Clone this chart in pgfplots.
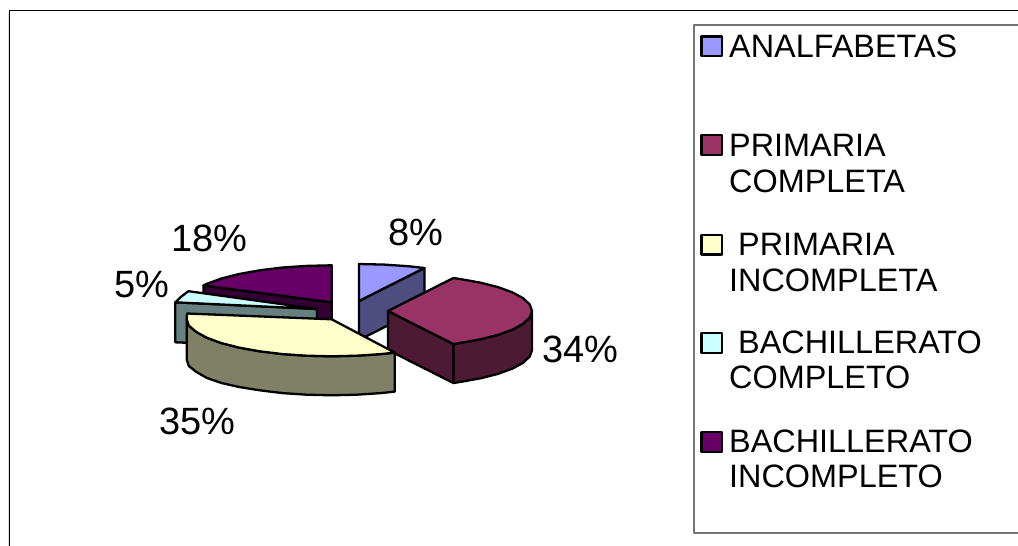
\documentclass[border=0pt]{standalone}
\usepackage{fontspec}
\setmainfont{Liberation Sans}
\usepackage{pgfplots}
\pgfplotsset{compat=1.18}
\definecolor{topA}{HTML}{9999FF}
\definecolor{topB}{HTML}{993366}
\definecolor{topC}{HTML}{FFFFCC}
\definecolor{topD}{HTML}{CCFFFF}
\definecolor{topE}{HTML}{660066}
\definecolor{sideA}{HTML}{4D4D80}
\definecolor{sideB}{HTML}{4D1A33}
\definecolor{sideC}{HTML}{808066}
\definecolor{sideD}{HTML}{668080}
\definecolor{sideE}{HTML}{330033}
\tikzset{
    wedge/.style={draw=black, line width=2.3pt, fill=#1},
    lab/.style={anchor=base west, inner sep=0pt, font=\fontsize{32.4}{36}\selectfont, text=black},
    pct/.style={anchor=base west, inner sep=0pt, font=\fontsize{38}{40}\selectfont, text=black},
}
\begin{document}
\begin{tikzpicture}
\begin{axis}[
    scale only axis, width=1018pt, height=546pt,
    xmin=0, xmax=1018, ymin=0, ymax=546, y dir=reverse,
    hide axis, no marks,
    every axis plot/.append style={line join=round, line cap=butt},
]
% outer frame
\addplot[draw=black!12, line width=1pt] coordinates {(8,12) (8,546)};
\addplot[draw=black, line width=1.8pt] coordinates {(9.5,546) (9.5,10.5) (1018,10.5)};
% legend box
\addplot[draw=black!55, line width=2pt] coordinates {(1018,25) (693.5,25) (693.5,532.5) (1018,532.5)};

% 8% analfabetas
\addplot[wedge=sideA] coordinates {(359,301) (424.4,268) (424.4,307) (359,340)} --cycle;
\addplot[wedge=topA] coordinates {(359,301) (359,264) (384,264.6) (408.2,266.2) (424.4,268)} --cycle;

% 34% primaria completa
\addplot[wedge=sideB] coordinates {(388,311) (453.4,344) (453.4,383) (388,350)} --cycle;
\addplot[wedge=sideB] coordinates {(453.4,344) (460,343) (480.6,339.3) (498.3,334.8) (512.7,329.5) (523.3,323.7) (529.8,317.4) (532,311)
    (532,350) (529.8,356.4) (523.3,362.7) (512.7,368.5) (498.3,373.8) (480.6,378.3) (460,382) (453.4,383)} --cycle;
\addplot[wedge=topB] coordinates {(388,311) (453.4,278) (460,279) (480.6,282.7) (498.3,287.2) (512.7,292.5) (523.3,298.3) (529.8,304.6) (532,311)
    (529.8,317.4) (523.3,323.7) (512.7,329.5) (498.3,334.8) (480.6,339.3) (460,343) (453.4,344)} --cycle;

% 18% bachillerato incompleto
\addplot[wedge=sideE] coordinates {(203.4,285.5) (331.7,302.3) (331.7,341) (203.4,324)} --cycle;
\addplot[wedge=topE] coordinates {(331.7,302.3) (331.7,265.3) (306.7,265.9) (282.5,267.5) (259.7,270.3) (239.1,274) (221.4,278.5) (207,283.8) (203.4,285.5)} --cycle;

% 5% bachillerato completo
\addplot[wedge=sideD] coordinates {(175.3,302.3) (317,309) (317,348) (175.3,342.3)} --cycle;
\addplot[wedge=topD] coordinates {(317,309) (175.3,302.3) (181.6,296.3) (188.5,291.2)} --cycle;

% 35% primaria incompleta
\addplot[wedge=sideC] coordinates {(394.8,352.6) (380.9,354.1) (356.7,355.7) (331.7,356.3) (306.7,355.7) (282.5,354.1) (259.7,351.3) (239.1,347.6) (221.4,343.1) (207,337.8) (196.4,332) (188.8,325.7) (186.7,319.3)
    (186.7,359.5) (188.8,366) (196.4,372) (207,378) (221.4,383) (239.1,387) (259.7,390.3) (282.5,393.1) (306.7,394.7) (331.7,395.3) (356.7,394.7) (380.9,393.1) (394.8,391.6)} --cycle;
\addplot[wedge=topC] coordinates {(331.7,319.3) (394.8,352.6) (380.9,354.1) (356.7,355.7) (331.7,356.3) (306.7,355.7) (282.5,354.1) (259.7,351.3) (239.1,347.6) (221.4,343.1) (207,337.8) (196.4,332) (188.8,325.7) (186.7,319.3) (187,313.5)} --cycle;

% legend keys
\addplot[wedge=topA] coordinates {(701.5,36.5) (722,36.5) (722,56) (701.5,56)} --cycle;
\addplot[wedge=topB] coordinates {(701.5,135) (722,135) (722,155) (701.5,155)} --cycle;
\addplot[wedge=topC] coordinates {(701.5,235) (722,235) (722,254.5) (701.5,254.5)} --cycle;
\addplot[wedge=topD] coordinates {(701.5,333) (722,333) (722,353) (701.5,353)} --cycle;
\addplot[wedge=topE] coordinates {(701.5,432) (722,432) (722,452) (701.5,452)} --cycle;

\node[lab] at (axis cs:729,57) {ANALFABETAS};
\node[lab] at (axis cs:729,156) {PRIMARIA};
\node[lab] at (axis cs:729,192) {COMPLETA};
\node[lab] at (axis cs:738,255) {PRIMARIA};
\node[lab] at (axis cs:729,291) {INCOMPLETA};
\node[lab] at (axis cs:738,353) {BACHILLERATO};
\node[lab] at (axis cs:729,388.5) {COMPLETO};
\node[lab] at (axis cs:729,452) {BACHILLERATO};
\node[lab] at (axis cs:729,487.5) {INCOMPLETO};

\node[pct] at (axis cs:388,245) {8\%};
\node[pct] at (axis cs:171,251) {18\%};
\node[pct] at (axis cs:114,297) {5\%};
\node[pct] at (axis cs:542,362) {34\%};
\node[pct] at (axis cs:159,434) {35\%};
\end{axis}
\pgfresetboundingbox
\path[use as bounding box] (0,0) rectangle (1018pt,546pt);
\end{tikzpicture}
\end{document}
